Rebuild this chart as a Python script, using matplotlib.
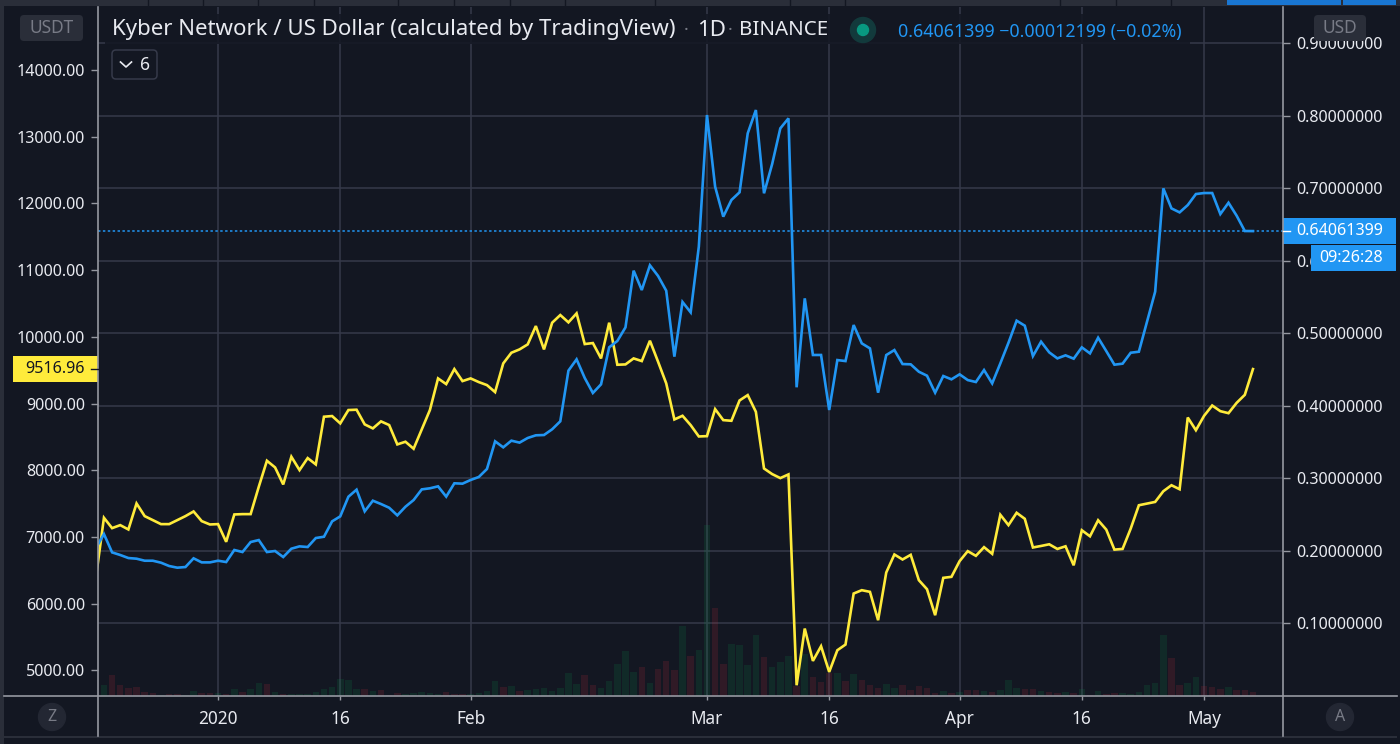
import pandas as pd
import matplotlib
matplotlib.use('Agg')
import matplotlib.pyplot as plt
from matplotlib.patches import Rectangle, FancyBboxPatch, Circle

W, H = 1400, 744

# one row per day, 2019-12-17 to 2020-05-07
dates = pd.date_range('2019-12-17', '2020-05-07', freq='D')

knc_usd = [
    0.2030, 0.2227, 0.1974, 0.1938, 0.1896, 0.1887, 0.1859, 0.1859, 0.1832, 0.1786,
    0.1763, 0.1772, 0.1892, 0.1836, 0.1836, 0.1859, 0.1841, 0.2007, 0.1979, 0.2117,
    0.2144, 0.1979, 0.1993, 0.1910, 0.2025, 0.2057, 0.2048, 0.2172, 0.2190, 0.2402,
    0.2471, 0.2742, 0.2839, 0.2540, 0.2687, 0.2641, 0.2590, 0.2485, 0.2604, 0.2696,
    0.2843, 0.2858, 0.2885, 0.2743, 0.2927, 0.2922, 0.2973, 0.3014, 0.3124, 0.3506,
    0.3423, 0.3515, 0.3488, 0.3552, 0.3589, 0.3593, 0.3672, 0.3782, 0.4481, 0.4637,
    0.4380, 0.4173, 0.4292, 0.4803, 0.4890, 0.5078, 0.5860, 0.5593, 0.5934, 0.5787,
    0.5584, 0.4674, 0.5428, 0.5285, 0.6191, 0.8007, 0.7019, 0.6605, 0.6835, 0.6941,
    0.7754, 0.8076, 0.6927, 0.7331, 0.7823, 0.7961, 0.4251, 0.5478, 0.4697, 0.4697,
    0.3938, 0.4627, 0.4613, 0.5110, 0.4857, 0.4788, 0.4177, 0.4696, 0.4765, 0.4572,
    0.4568, 0.4466, 0.4411, 0.4177, 0.4407, 0.4361, 0.4430, 0.4351, 0.4324, 0.4489,
    0.4305, 0.4581, 0.4866, 0.5170, 0.5101, 0.4682, 0.4880, 0.4733, 0.4650, 0.4692,
    0.4646, 0.4802, 0.4719, 0.4935, 0.4751, 0.4563, 0.4577, 0.4728, 0.4742, 0.5156,
    0.5570, 0.6995, 0.6719, 0.6664, 0.6765, 0.6917, 0.6931, 0.6931, 0.6641, 0.6797,
    0.6618, 0.6407, 0.6406,
]

btc_usdt = [
    6378, 7288, 7133, 7178, 7113, 7503, 7313, 7253, 7193, 7193,
    7253, 7313, 7383, 7238, 7188, 7193, 6928, 7338, 7343, 7343,
    7753, 8143, 8043, 7788, 8203, 8003, 8183, 8088, 8803, 8813,
    8703, 8903, 8908, 8688, 8628, 8733, 8678, 8388, 8428, 8323,
    8613, 8903, 9377, 9292, 9517, 9337, 9377, 9322, 9277, 9172,
    9602, 9762, 9812, 9887, 10162, 9812, 10212, 10327, 10217, 10352,
    9892, 9907, 9677, 10212, 9582, 9587, 9677, 9637, 9942, 9627,
    9302, 8762, 8817, 8677, 8507, 8512, 8917, 8752, 8742, 9047,
    9127, 8877, 8027, 7943, 7883, 7938, 4778, 5628, 5143, 5363,
    4978, 5303, 5388, 6153, 6203, 6178, 5753, 6468, 6738, 6663,
    6733, 6353, 6218, 5828, 6388, 6403, 6638, 6788, 6718, 6848,
    6748, 7333, 7178, 7363, 7273, 6843, 6866, 6891, 6821, 6861,
    6576, 7101, 7011, 7251, 7111, 6811, 6821, 7126, 7476, 7501,
    7526, 7686, 7776, 7716, 8791, 8601, 8816, 8971, 8886, 8856,
    9011, 9131, 9517,
]

# volume in arbitrary units, read as bar heights
volume = [
    0, 11, 21, 11, 8, 9, 4, 3, 1, 2,
    2, 1, 5, 3, 3, 3, 2, 7, 4, 7,
    13, 12, 4, 2, 2, 2, 2, 4, 7, 9,
    17, 16, 7, 7, 5, 6, 1, 3, 2, 3,
    4, 3, 2, 4, 2, 2, 2, 3, 5, 15,
    9, 10, 5, 6, 7, 8, 5, 8, 23, 12,
    21, 11, 8, 15, 32, 45, 24, 29, 13, 27,
    35, 26, 70, 40, 46, 171, 88, 32, 52, 51,
    31, 61, 39, 29, 34, 40, 10, 42, 19, 14,
    23, 23, 15, 22, 16, 11, 8, 12, 8, 11,
    6, 10, 8, 3, 5, 3, 4, 6, 6, 5,
    4, 6, 16, 8, 7, 7, 5, 4, 3, 4,
    3, 7, 1, 5, 2, 3, 3, 2, 4, 11,
    13, 61, 38, 11, 13, 19, 10, 9, 7, 9,
    6, 6, 4,
]
volume_up = [
    1, 1, 0, 0, 0, 0, 0, 0, 1, 0,
    0, 1, 1, 0, 0, 1, 0, 1, 0, 1,
    1, 0, 1, 0, 1, 1, 1, 1, 1, 1,
    1, 1, 1, 0, 1, 0, 0, 0, 1, 1,
    1, 1, 1, 0, 0, 0, 1, 1, 1, 1,
    0, 1, 0, 1, 1, 1, 1, 1, 1, 1,
    0, 0, 1, 1, 1, 1, 1, 0, 1, 0,
    0, 0, 1, 0, 1, 1, 0, 0, 1, 1,
    1, 1, 0, 1, 1, 1, 0, 1, 0, 0,
    0, 1, 0, 1, 0, 0, 0, 1, 1, 0,
    0, 0, 0, 0, 1, 0, 1, 0, 0, 1,
    0, 1, 1, 1, 0, 0, 1, 0, 0, 1,
    0, 1, 0, 1, 0, 0, 1, 1, 1, 1,
    1, 1, 0, 0, 1, 1, 0, 0, 0, 1,
    0, 0, 0,
]

usd_ticks = [0.1, 0.2, 0.3, 0.4, 0.5, 0.6, 0.7, 0.8, 0.9]
usdt_ticks = [5000, 6000, 7000, 8000, 9000, 10000, 11000, 12000, 13000, 14000]
x_ticks = ['2020-01-01', '2020-01-16', '2020-02-01', '2020-03-01', '2020-03-16',
           '2020-04-01', '2020-04-16', '2020-05-01']
x_labels = ['2020', '16', 'Feb', 'Mar', '16', 'Apr', '16', 'May']

last_price = 0.64061399
last_btc = 9516.96

BG = '#131722'
GRID = '#363a4a'
PANEL = '#2a2e39'
AXIS = '#9598a1'
TEXT = '#e8eaf0'
MUTED = '#787b86'
BLUE = '#2196f3'
YELLOW = '#ffeb3b'

plt.rcParams['font.family'] = 'Noto Sans'

fig = plt.figure(figsize=(14, 7.44), dpi=100, facecolor=BG)

left, right, top, bottom = 98, 1283, 7, 696
ax = fig.add_axes([left / W, 1 - bottom / H, (right - left) / W, (bottom - top) / H])
ax.set_facecolor(BG)

# right scale carries the grid
ax.set_ylim(-0.0007, 0.9497)
ax.set_xlim(pd.Timestamp('2019-12-17 06:30'), pd.Timestamp('2020-05-10 16:30'))
ax.grid(True, color=GRID, lw=1.1)
ax.set_axisbelow(True)

# volume sits on its own scale along the bottom
vol_ax = ax.twinx()
vol_ax.set_ylim(0, bottom - top)
vol_ax.axis('off')
vol_ax.bar(dates, volume, width=0.8, lw=0, alpha=0.15,
           color=['#089950' if u else '#d9303f' for u in volume_up])

ax_left = ax.twinx()
ax_left.set_ylim(4617, 14944)
ax_left.yaxis.tick_left()
ax_left.set_yticks(usdt_ticks)
ax_left.set_yticklabels([f'{v:.2f}' for v in usdt_ticks])
ax_left.plot(dates, btc_usdt, color=YELLOW, lw=1.9, solid_joinstyle='miter')

price_ax = ax.twinx()
price_ax.set_ylim(ax.get_ylim())
price_ax.axis('off')
price_ax.axhline(last_price, color=BLUE, lw=1.1, ls=(0, (1.6, 1.6)))
price_ax.plot(dates, knc_usd, color=BLUE, lw=1.9, solid_joinstyle='miter')

# twinx moves the ticks, so set the sides once all twins exist
ax.yaxis.tick_right()
ax.set_yticks(usd_ticks)
ax.set_yticklabels([f'{v:.8f}' for v in usd_ticks])
ax.set_xticks(pd.to_datetime(x_ticks))
ax.set_xticklabels(x_labels)
ax.tick_params(axis='x', labelcolor=TEXT, length=3, width=1, color=AXIS, labelsize=12.4, pad=7)
for a in [ax, ax_left]:
    a.tick_params(axis='y', labelcolor=TEXT, length=5, width=1, color=AXIS, labelsize=11.6, pad=4.5)
    for s in a.spines.values():
        s.set_visible(False)

# overlay in reference pixels for the chrome around the chart
ui = fig.add_axes([0, 0, 1, 1], zorder=10)
ui.set_xlim(0, W)
ui.set_ylim(H, 0)
ui.axis('off')


def rect(x0, y0, x1, y1, color, **kw):
    ui.add_patch(Rectangle((x0, y0), x1 - x0, y1 - y0, color=color, lw=0, **kw))


def rbox(x0, y0, x1, y1, fc, ec='none', r=4):
    ui.add_patch(FancyBboxPatch((x0, y0), x1 - x0, y1 - y0, boxstyle=f'round,pad=0,rounding_size={r}',
                                fc=fc, ec=ec, lw=1.1))


# frame of the pane and of the scales
rect(0, 0, 4, H, PANEL)
rect(0, 0, W, 6, PANEL)
rect(4, 736, 1397, 738, PANEL)
rect(1397, 6, W, H, BG)
ui.plot([left, left], [7, 736], color=AXIS, lw=1.2)
ui.plot([right, right], [7, 736], color=AXIS, lw=1.2)
ui.plot([4, 1397], [bottom, bottom], color=AXIS, lw=1.2)
for x in [148, 203, 258, 314, 398, 454, 510, 565, 655, 790, 845, 1060, 1116, 1171]:
    ui.plot([x, x], [0, 5], color=BG, lw=1)
rect(1227, 0, 1341, 5, '#1976d2')
rect(1343, 0, 1396, 5, '#1976d2')

# legend strip over the pane
rect(105, 14, 1190, 44, BG, alpha=0.85)
ui.text(112, 30, 'Kyber Network / US Dollar (calculated by TradingView)', color=TEXT,
        fontsize=16, va='center')
ui.text(686, 30, '·', color=MUTED, fontsize=13, ha='center', va='center')
ui.text(697, 30, '1D', color=TEXT, fontsize=16, va='center')
ui.text(730, 30, '·', color=MUTED, fontsize=13, ha='center', va='center')
ui.text(739, 30, 'BINANCE', color=TEXT, fontsize=14.8, va='center')
ui.add_patch(Circle((863, 30), 12.5, color='#123a3c'))
ui.add_patch(Circle((863, 30), 5.5, color='#089981'))
ui.text(898, 32, '0.64061399 −0.00012199 (−0.02%)', color=BLUE, fontsize=12.8, va='center')

# collapse button
rbox(112, 50, 157, 79, BG, GRID)
ui.plot([120.5, 126, 131.5], [62, 67, 62], color=TEXT, lw=1.2)
ui.text(145, 65, '6', color=TEXT, fontsize=12.5, ha='center', va='center')

# currency badges
for x0, x1, name in [(20, 83, 'USDT'), (1314, 1366, 'USD')]:
    rbox(x0, 15, x1, 41, PANEL)
    ui.text((x0 + x1) / 2, 28, name, color=MUTED, fontsize=12.5, ha='center', va='center')

# round buttons under the scales
for x, name in [(52, 'Z'), (1340, 'A')]:
    ui.add_patch(Circle((x, 717), 13.5, color='#232733'))
    ui.text(x, 717, name, color=MUTED, fontsize=11.5, ha='center', va='center')

# price labels on the scales
rect(13, 356, 98, 382, YELLOW)
ui.text(85, 369, f'{last_btc:.2f}', color=BG, fontsize=11.6, ha='right', va='center')
ui.plot([91, 98], [369, 369], color=BG, lw=1)
rect(1283, 218, 1396, 244, BLUE)
ui.text(1383, 231, f'{last_price:.8f}', color='white', fontsize=11.6, ha='right', va='center')
ui.plot([1283, 1290], [231, 231], color='white', lw=1)
rect(1311, 245, 1396, 271, BLUE)
ui.text(1383, 258, '09:26:28', color='white', fontsize=11.6, ha='right', va='center')

fig.savefig('out.png', dpi=100, facecolor=BG)
